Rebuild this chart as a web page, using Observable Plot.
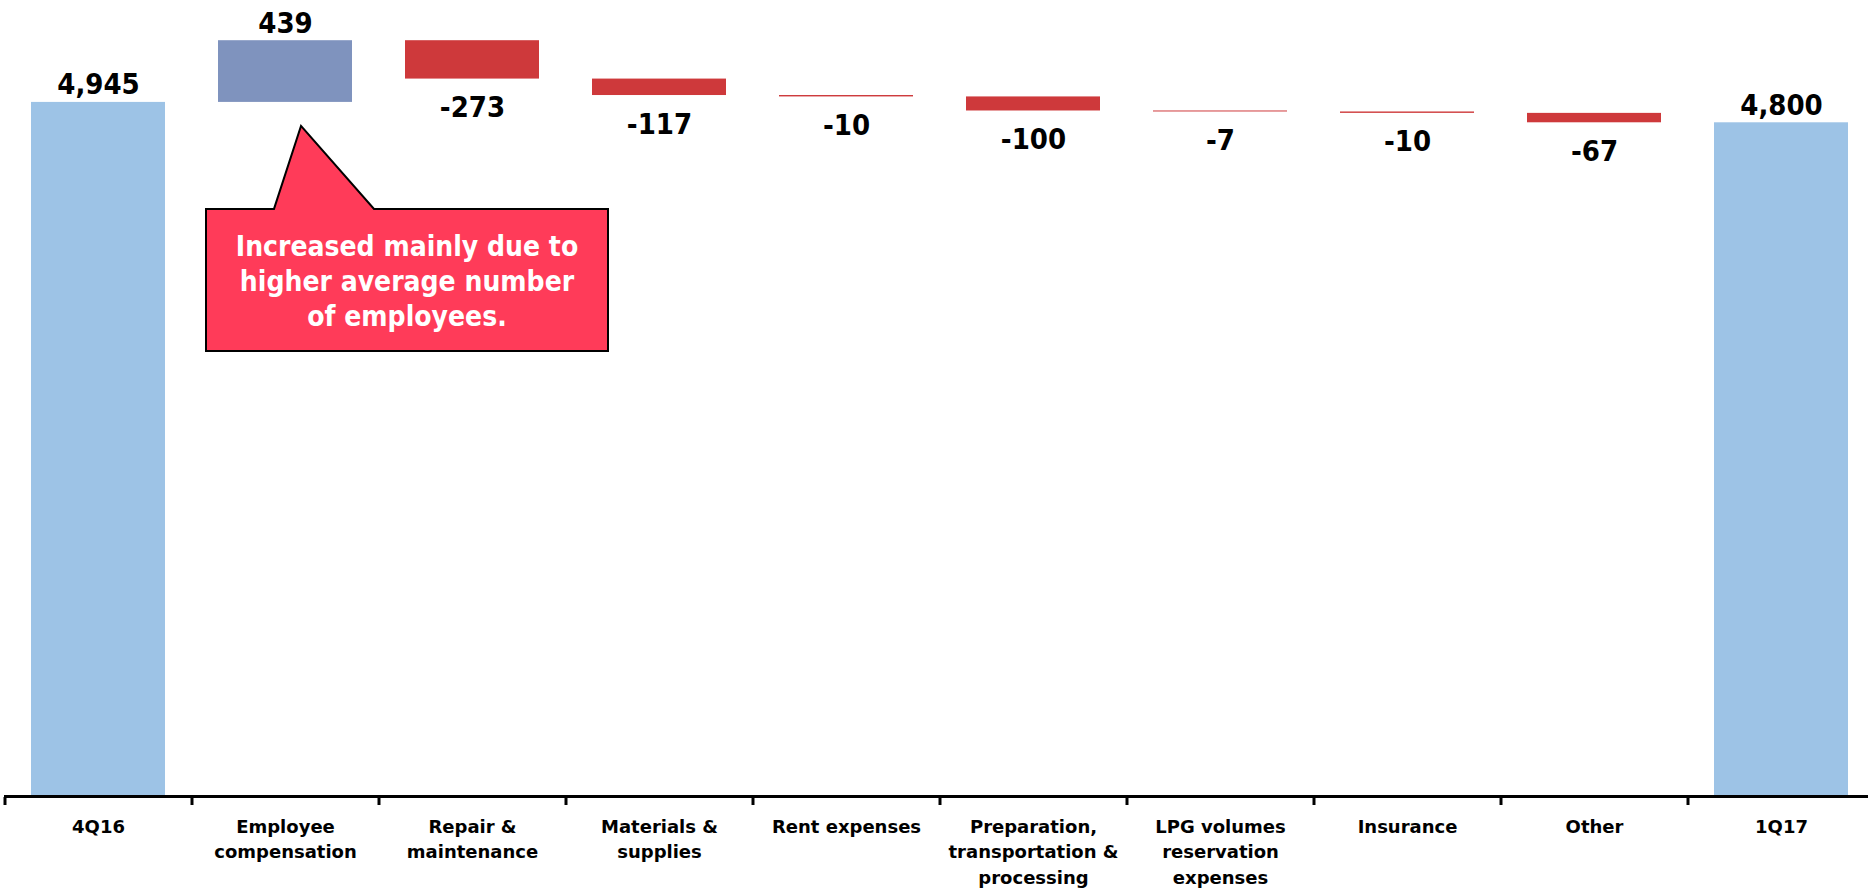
<!DOCTYPE html>
<html><head><meta charset="utf-8">
<script src="https://cdn.jsdelivr.net/npm/d3@7"></script>
<script src="https://cdn.jsdelivr.net/npm/@observablehq/plot@0.6"></script>
<style>
body{margin:0;background:#fff;}
#chart svg{display:block;}
</style>
</head><body><div id="chart"></div>
<script>
const categories = ["4Q16","Employee compensation","Repair & maintenance","Materials & supplies","Rent expenses","Preparation, transportation & processing","LPG volumes reservation expenses","Insurance","Other","1Q17"];
const tickLabels = ["4Q16","Employee\ncompensation","Repair &\nmaintenance","Materials &\nsupplies","Rent expenses","Preparation,\ntransportation &\nprocessing","LPG volumes\nreservation\nexpenses","Insurance","Other","1Q17"];
const kinds = ["total","increase","decrease","decrease","decrease","decrease","decrease","decrease","decrease","total"];
const values = [4945, 439, -273, -117, -10, -100, -7, -10, -67, 4800];
const calloutCategory = "Employee compensation";
const calloutLines = ["Increased mainly due to","higher average number","of employees."];

// build waterfall rows
let running = 0;
const rows = categories.map((c, i) => {
  const v = values[i];
  let y1, y2;
  if (kinds[i] === "total") { y1 = 0; y2 = v; running = v; }
  else { y1 = running; y2 = running + v; running = y2; }
  return {category: c, kind: kinds[i], value: v, y1, y2, top: Math.max(y1, y2), bottom: Math.min(y1, y2)};
});
const labelMap = new Map(categories.map((c, i) => [c, tickLabels[i]]));
const fmt = v => (v < 0 ? "-" : "") + d3.format(",")(Math.abs(v));

const W = 1868, H = 892;
const step = 187;
const fontBold = "'DejaVu Sans', sans-serif";
const fontCond = "'DejaVu Sans Condensed', 'DejaVu Sans', sans-serif";

const plot = Plot.plot({
  width: W, height: H,
  marginLeft: 4, marginRight: 0, marginTop: 0, marginBottom: 95,
  style: {background: "#fff", fontFamily: fontBold, overflow: "visible"},
  x: {domain: categories, range: [4, 4 + step * categories.length], paddingInner: 0.285, paddingOuter: 0.1425, axis: null},
  y: {domain: [0, 5670], axis: null},
  color: {domain: ["total","increase","decrease"], range: ["#9DC3E6","#7F93BE","#CE393B"]},
  marks: [
    Plot.barY(rows, {x: "category", y1: "y1", y2: "y2", fill: "kind"}),
    Plot.ruleY([0], {stroke: "#000", strokeWidth: 3, dy: -1}),
    Plot.ruleX(categories, {x: d => d, y1: 0, y2: 0, dx: -step / 2, insetBottom: -8, stroke: "#000", strokeWidth: 3}),
    Plot.axisX({tickSize: 0, tickPadding: 17, label: null, tickFormat: d => labelMap.get(d), fontSize: 18, fontWeight: "bold", lineHeight: 1.42, fill: "#000", fontFamily: fontBold}),
    Plot.text(rows.filter(d => d.value >= 0), {x: "category", y: "top", text: d => fmt(d.value), lineAnchor: "bottom", dy: -8, fontSize: 29, fontWeight: "bold", fill: "#000", fontFamily: fontCond}),
    Plot.text(rows.filter(d => d.value < 0), {x: "category", y: "bottom", text: d => fmt(d.value), lineAnchor: "bottom", dy: 38, fontSize: 29, fontWeight: "bold", fill: "#000", fontFamily: fontCond})
  ]
});

// callout anchored to the Employee compensation bar via the plot's scales
(function addCallout() {
  const xs = plot.scale("x"), ys = plot.scale("y");
  const row = rows.find(d => d.category === calloutCategory);
  const bx = xs.apply(calloutCategory);
  const center = bx + (xs.bandwidth || 0) / 2;
  const tx = center + 16, ty = ys.apply(row.y1) + 24;
  const pts = [[0,0],[73,83],[307,83],[307,225],[-95,225],[-95,83],[-27,83]].map(([dx,dy]) => [tx+dx, ty+dy]);
  const g = d3.select(plot).append("g").attr("class", "callout");
  g.append("path").attr("d", "M" + pts.map(p => p.join(",")).join("L") + "Z")
    .attr("fill", "#FF3B59").attr("stroke", "#000").attr("stroke-width", 2).attr("stroke-linejoin", "miter");
  g.selectAll("text").data(calloutLines).join("text")
    .attr("x", tx + 106).attr("y", (d, i) => ty + 130 + i * 35)
    .attr("text-anchor", "middle").attr("fill", "#fff")
    .attr("font-family", fontCond).attr("font-weight", "bold").attr("font-size", 28)
    .text(d => d);
})();

document.getElementById("chart").appendChild(plot);
</script>
</body></html>
